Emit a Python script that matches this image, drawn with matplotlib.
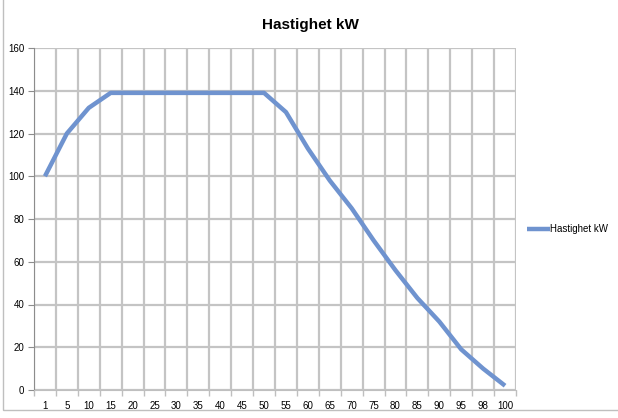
import matplotlib.pyplot as plt
import numpy as np

categories = ['1', '5', '10', '15', '20', '25', '30', '35', '40', '45', '50',
              '55', '60', '65', '70', '75', '80', '85', '90', '95', '98', '100']
hastighet_kw = [100, 120, 132, 139, 139, 139, 139, 139, 139, 139, 139,
                130, 113, 98, 85, 70, 56, 43, 32, 19, 10, 2]
yticks = [0, 20, 40, 60, 80, 100, 120, 140, 160]

plt.rcParams['font.family'] = ['Liberation Sans', 'DejaVu Sans']

fig = plt.figure(figsize=(6.18, 4.18), dpi=100)
ax = fig.add_axes([34 / 618, 28 / 418, (516 - 34) / 618, (390 - 48) / 418])

x = np.arange(len(categories))
ax.plot(x, hastighet_kw, color='#6f93cf', lw=3.2, solid_capstyle='butt',
        solid_joinstyle='round', label='Hastighet kW', zorder=3)

ax.set_xlim(-0.5, len(categories) - 0.5)
ax.set_ylim(0, 160)
ax.set_yticks(yticks)
ax.set_xticks(x)
ax.set_xticklabels(categories)
ax.set_xticks(np.arange(-0.5, len(categories), 1.0), minor=True)

ax.tick_params(axis='x', which='major', length=0, labelsize=7, pad=8)
ax.tick_params(axis='x', which='minor', length=4, color='#bfbfbf', width=1)
ax.tick_params(axis='y', length=4, color='#8c8c8c', labelsize=7, pad=3)

ax.grid(True, axis='y', color='#c4c4c4', lw=1.6)
ax.grid(True, axis='x', which='minor', color='#c4c4c4', lw=1.6)
ax.set_axisbelow(True)

for s in ['top', 'right']:
    ax.spines[s].set_visible(False)
ax.spines['left'].set_color('#8c8c8c')
ax.spines['bottom'].set_color('#bfbfbf')

fig.text(310 / 618, 1 - 25 / 418, 'Hastighet kW', ha='center', va='center',
         fontsize=11, fontweight='bold')

ax.legend(loc='center left', bbox_to_anchor=(1.005, 0.47), frameon=False,
          fontsize=7, handlelength=2.3, handletextpad=0.1)

# outer chart border
fig.add_artist(plt.Rectangle((3 / 618, 8 / 418), 1, 1, transform=fig.transFigure,
                             fill=False, edgecolor='#bfbfbf', lw=1))

fig.savefig('out.png', dpi=100)
